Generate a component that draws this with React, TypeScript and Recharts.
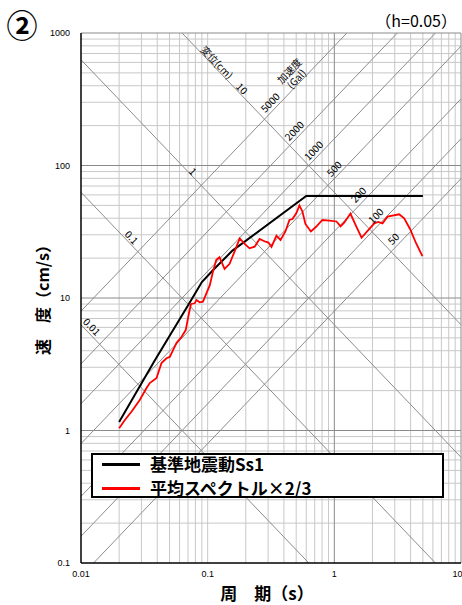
import { ComposedChart, Line, XAxis, YAxis, ReferenceLine, ReferenceDot, Legend } from 'recharts'

// 基準地震動Ss1 (period s, velocity cm/s)
const ssT = [0.02, 0.038, 0.072, 0.09, 0.11, 0.157, 0.6, 5]
const ssV = [1.16, 3.35, 9.2, 13.2, 16.2, 22.8, 58.9, 58.9]

// 平均スペクトル×2/3
const avgT = [0.02, 0.0222, 0.0251, 0.0291, 0.0329, 0.0349, 0.0395, 0.0432, 0.0473, 0.0502, 0.0533, 0.0567, 0.0621, 0.0671, 0.0712, 0.0739, 0.079, 0.0815, 0.0865, 0.0918, 0.0977, 0.104, 0.11, 0.117, 0.124, 0.136, 0.149, 0.163, 0.179, 0.196, 0.214, 0.235, 0.257, 0.286, 0.302, 0.319, 0.349, 0.376, 0.411, 0.442, 0.467, 0.502, 0.53, 0.56, 0.591, 0.653, 0.718, 0.804, 0.913, 1.04, 1.12, 1.2, 1.34, 1.48, 1.64, 1.89, 2.07, 2.22, 2.4, 2.63, 3.25, 3.56, 3.96, 4.42, 4.96]
const avgV = [1.04, 1.2, 1.39, 1.7, 2.09, 2.28, 2.49, 3.23, 3.51, 3.59, 4.05, 4.57, 5.08, 5.73, 7.71, 9.02, 9.12, 9.66, 9.28, 9.38, 10.85, 12.5, 15.8, 19.4, 20.3, 16.6, 18.1, 22.4, 28.2, 25.6, 23.7, 24.4, 27.9, 26.6, 26.2, 24.3, 29.6, 27.4, 31.8, 38.8, 39.4, 43.8, 49.9, 45.0, 36.2, 31.8, 34.5, 38.8, 38.4, 37.8, 34.7, 37.2, 43.4, 35.2, 28.5, 33.2, 36.6, 37.5, 36.6, 41.1, 42.8, 39.9, 33.2, 25.9, 20.7]

const xTicks = [0.01, 0.1, 1, 10]
const yTicks = [0.1, 1, 10, 100, 1000]

// tripartite guide lines
const dispLines = [0.01, 0.1, 1, 10] // cm
const accLines = [50, 100, 200, 500, 1000, 2000, 5000] // Gal

const SERIES = [
  { key: 'ss', name: '基準地震動Ss1', color: '#000000' },
  { key: 'avg', name: '平均スペクトル×2/3', color: '#ff0000' },
]

const T_MIN = 0.01, T_MAX = 10, V_MIN = 0.1, V_MAX = 1000
const TWO_PI = 2 * Math.PI
const JP = "'Noto Sans CJK JP', 'Liberation Sans', sans-serif"
const ANG = 46.2

const ssData = ssT.map((t, i) => ({ t, v: ssV[i] }))
const avgData = avgT.map((t, i) => ({ t, v: avgV[i] }))

const minorOf = (lo: number, hi: number) => {
  const out: number[] = []
  for (let d = lo; d < hi * 0.999; d *= 10) for (let k = 2; k <= 9; k++) out.push(+(d * k).toPrecision(3))
  return out
}
const xMinor = [...minorOf(T_MIN, T_MAX), 0.1]
const yMinor = minorOf(V_MIN, V_MAX)
const xMajor = [1, 10]
const yMajor = [1, 10, 100, 1000]

const dispSeg = (d: number) => {
  const k = TWO_PI * d
  const t1 = Math.max(T_MIN, k / V_MAX), t2 = Math.min(T_MAX, k / V_MIN)
  return [{ x: t1, y: k / t1 }, { x: t2, y: k / t2 }]
}
const accSeg = (a: number) => {
  const c = a / TWO_PI
  const t1 = Math.max(T_MIN, V_MIN / c), t2 = Math.min(T_MAX, V_MAX / c)
  return [{ x: t1, y: c * t1 }, { x: t2, y: c * t2 }]
}

// label anchors along the guide lines
const dispLabels = [
  { d: 10, t: 0.111, text: '変位(cm)', off: 5.5 },
  { d: 10, t: 0.175, text: '10', off: 5.5 },
  { d: 1, t: 0.0728, text: '1', off: 4.5 },
  { d: 0.1, t: 0.0234, text: '0.1', off: 6 },
  { d: 0.01, t: 0.0112, text: '0.01', off: 7 },
]
const accLabels = [
  { a: 5000, t: 0.54, text: '加速度', off: 16 },
  { a: 5000, t: 0.535, text: '(Gal)', off: 5.5 },
  { a: 5000, t: 0.343, text: '5000', off: 8 },
  { a: 2000, t: 0.528, text: '2000', off: 7.5 },
  { a: 1000, t: 0.75, text: '1000', off: 7.5 },
  { a: 500, t: 1.09, text: '500', off: 7.5 },
  { a: 200, t: 1.72, text: '200', off: 8.5 },
  { a: 100, t: 2.37, text: '100', off: 9 },
  { a: 50, t: 3.22, text: '50', off: 8 },
]

const diagText = (text: string, angle: number, off: number) => (p: any) => (
  <text transform={`translate(${p.cx},${p.cy}) rotate(${angle})`} y={-off} textAnchor="middle" dominantBaseline="central" fontSize={10} fontFamily={JP} fill="#000">{text}</text>
)

const renderLegend = () => (
  <div style={{ position: 'relative', boxSizing: 'border-box', width: 353, height: 45, border: '2px solid #000', background: '#fff' }}>
    {SERIES.map((s, i) => (
      <div key={s.key} style={{ position: 'absolute', left: 0, top: -1 + i * 24, height: 20, display: 'flex', alignItems: 'center', whiteSpace: 'nowrap' }}>
        <span style={{ display: 'inline-block', marginLeft: 9, width: 38, height: 3, background: s.color }} />
        <span style={{ marginLeft: 10, fontFamily: JP, fontWeight: 700, fontSize: 17, lineHeight: '20px', color: '#000' }}>{s.name}</span>
      </div>
    ))}
  </div>
)

export default function App() {
  return (
    <div style={{ position: 'absolute', left: 0, top: 0, width: 462, height: 605, background: '#fff', overflow: 'hidden' }}>
      <ComposedChart width={462} height={605} margin={{ top: 33, right: 1, bottom: 12, left: 21 }}>
        <XAxis dataKey="t" type="number" scale="log" domain={[T_MIN, T_MAX]} ticks={xTicks} allowDataOverflow height={30} tickLine={false} axisLine={{ stroke: '#000', strokeWidth: 1.5 }} tick={{ fontSize: 9, fill: '#000', fontFamily: 'Liberation Sans' }} tickFormatter={(v) => String(v)} />
        <YAxis dataKey="v" type="number" scale="log" domain={[V_MIN, V_MAX]} ticks={yTicks} allowDataOverflow width={60} tickLine={false} tickMargin={5} axisLine={{ stroke: '#000', strokeWidth: 1.5 }} tick={{ fontSize: 9, fill: '#000', fontFamily: 'Liberation Sans' }} tickFormatter={(v) => String(v)} />
        {xMinor.map((v) => <ReferenceLine key={`xm${v}`} x={v} stroke="#c8c8c8" strokeWidth={1} ifOverflow="visible" />)}
        {yMinor.map((v) => <ReferenceLine key={`ym${v}`} y={v} stroke="#c8c8c8" strokeWidth={1} ifOverflow="visible" />)}
        {xMajor.map((v) => <ReferenceLine key={`xM${v}`} x={v} stroke="#8a8a8a" strokeWidth={1} ifOverflow="visible" />)}
        {yMajor.map((v) => <ReferenceLine key={`yM${v}`} y={v} stroke="#8a8a8a" strokeWidth={1} ifOverflow="visible" />)}
        {dispLines.map((d) => <ReferenceLine key={`d${d}`} segment={dispSeg(d)} stroke="#8c8c8c" strokeWidth={1} ifOverflow="visible" />)}
        {accLines.map((a) => <ReferenceLine key={`a${a}`} segment={accSeg(a)} stroke="#8c8c8c" strokeWidth={1} ifOverflow="visible" />)}
        {dispLabels.map((l) => <ReferenceDot key={`dl${l.text}`} x={l.t} y={(TWO_PI * l.d) / l.t} r={0} ifOverflow="visible" shape={diagText(l.text, ANG, l.off)} />)}
        {accLabels.map((l) => <ReferenceDot key={`al${l.text}`} x={l.t} y={(l.a * l.t) / TWO_PI} r={0} ifOverflow="visible" shape={diagText(l.text, -ANG, l.off)} />)}
        <Line data={ssData} dataKey="v" name={SERIES[0].name} stroke={SERIES[0].color} strokeWidth={2} dot={false} type="linear" isAnimationActive={false} />
        <Line data={avgData} dataKey="v" name={SERIES[1].name} stroke={SERIES[1].color} strokeWidth={1.8} dot={false} type="linear" isAnimationActive={false} />
        <Legend layout="horizontal" verticalAlign="middle" width={353} wrapperStyle={{ left: 91, top: 453, width: 353, height: 45 }} content={renderLegend} />
      </ComposedChart>
      <div style={{ position: 'absolute', left: 22, top: 23, transform: 'translate(-50%,-50%)', whiteSpace: 'nowrap', fontFamily: JP, fontWeight: 700, fontSize: 31 }}>②</div>
      <div style={{ position: 'absolute', right: 5, top: 8, fontFamily: JP, fontSize: 16 }}>（h=0.05）</div>
      <div style={{ position: 'absolute', left: 42, top: 296, transform: 'translate(-50%,-50%) rotate(-90deg)', whiteSpace: 'nowrap', fontFamily: JP, fontWeight: 700, fontSize: 16 }}>速　度（cm/s）</div>
      <div style={{ position: 'absolute', left: 267, top: 592, transform: 'translate(-50%,-50%)', whiteSpace: 'nowrap', fontFamily: JP, fontWeight: 700, fontSize: 17 }}>周　期（s）</div>
    </div>
  )
}
